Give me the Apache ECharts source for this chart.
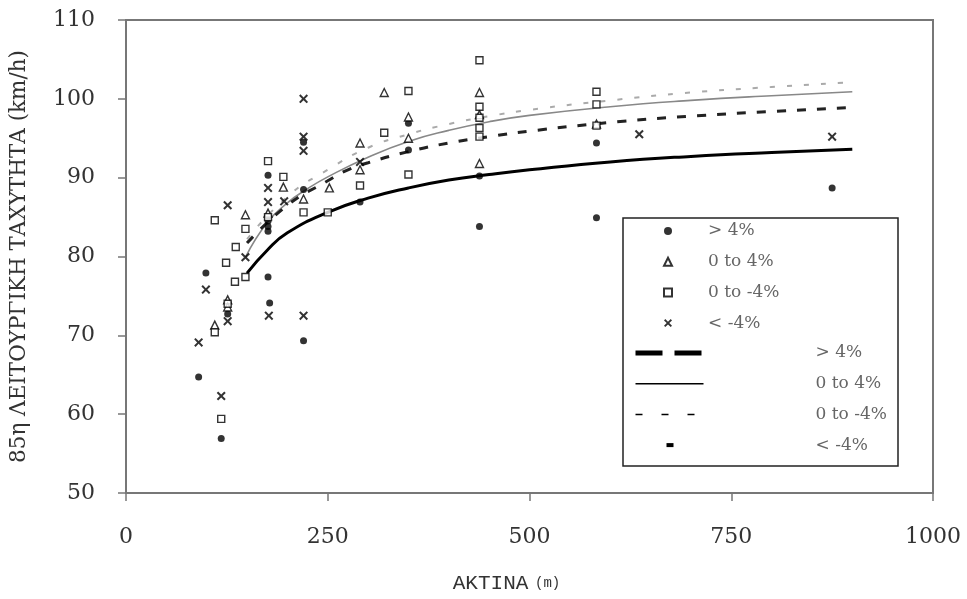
<!DOCTYPE html>
<html><head><meta charset="utf-8">
<script src="https://cdn.jsdelivr.net/npm/echarts@6/dist/echarts.min.js"></script>
<style>html,body{margin:0;padding:0;background:#fff}#c{width:967px;height:599px}</style>
</head><body><div id="c"></div>
<script>
// ---- data ----
const xTicks = [0, 250, 500, 750, 1000];
const yTicks = [50, 60, 70, 80, 90, 100, 110];
const groupNames = ['> 4%', '0 to 4%', '0 to -4%', '< -4%'];

// scatter observations [radius m, V85 km/h]
const ptsGt4 = [[90,64.7],[99,77.9],[118,56.9],[126,72.7],[176,90.3],[176,84.5],[176,83.8],[176,83.2],[176,77.4],[178,74.1],
  [220,94.5],[220,88.5],[220,69.3],[290,86.9],[350,96.9],[350,93.5],[438,90.2],[438,83.8],[583,94.4],[583,84.9],[875,88.7]];
const ptsPos = [[110,71.3],[126,74.5],[126,73.6],[148,85.3],[176,85.5],[195,88.8],[220,87.3],[252,88.7],[290,94.4],[290,91.0],
  [320,100.8],[350,97.7],[350,95.0],[438,100.8],[438,98.0],[438,91.8],[583,96.8]];
const ptsNeg = [[110,84.6],[118,59.4],[110,70.4],[126,74.0],[124,79.2],[135,76.8],[136,81.2],[148,83.5],[148,77.4],[176,92.1],
  [176,85.0],[195,90.1],[220,85.6],[250,85.6],[290,89.0],[320,95.7],[350,101.0],[350,90.4],[438,104.9],[438,99.0],[438,97.6],
  [438,96.3],[438,95.2],[583,100.9],[583,99.3],[583,96.6]];
const ptsLt4 = [[90,69.1],[99,75.8],[118,62.3],[126,86.5],[126,71.8],[148,79.9],[177,72.5],[176,88.7],[176,86.9],[196,87.0],
  [220,100.0],[220,95.2],[220,93.4],[220,72.5],[290,92.0],[636,95.5],[875,95.2]];

// fitted curves
const fitGt4X = [150,175,200,250,300,350,400,450,500,600,700,800,900];
const fitGt4Y = [77.9,80.8,83.0,85.6,87.4,88.7,89.7,90.4,91.0,92.0,92.7,93.2,93.6];
const fitPosX = [148,175,200,225,250,300,350,400,450,500,600,700,800,900];
const fitPosY = [79.9,84.3,86.8,88.6,90.1,92.6,94.6,96.0,97.1,97.9,99.0,99.8,100.4,100.9];
const fitNegX = [150,200,250,275,300,350,400,450,500,600,700,800,900];
const fitNegY = [81.7,86.5,89.6,91.0,91.9,93.3,94.4,95.2,95.9,97.0,97.8,98.4,98.9];
const fitLt4X = [150,200,250,300,350,400,450,500,600,700,800,900];
const fitLt4Y = [82.2,87.6,91.0,93.8,95.5,96.8,97.8,98.6,99.8,100.8,101.5,102.1];

const pair = (xs, ys) => xs.map((x, i) => [x, ys[i]]);
const crossPath = 'path://M0,1.6L1.6,0L5,3.4L8.4,0L10,1.6L6.6,5L10,8.4L8.4,10L5,6.6L1.6,10L0,8.4L3.4,5Z';
const serif = 'DejaVu Serif';
const lineNames = groupNames.map(n => n + ' ');
const hideSym = {color: 'transparent', borderColor: 'transparent', opacity: 0};

const chart = echarts.init(document.getElementById('c'), null, {renderer: 'canvas'});
chart.setOption({
  animation: false,
  backgroundColor: '#fff',
  grid: {left: 123, right: 34, top: 20, bottom: 106, show: true, borderColor: '#777', borderWidth: 2, backgroundColor: 'transparent'},
  xAxis: {
    type: 'value', min: 0, max: 1000, interval: 250,
    axisLine: {show: true, lineStyle: {color: '#777', width: 2}},
    axisTick: {show: true, inside: false, length: 8, lineStyle: {color: '#777', width: 1.5}, customValues: xTicks},
    axisLabel: {margin: 33, fontFamily: serif, fontSize: 22, color: '#333', customValues: xTicks, formatter: v => String(v)},
    splitLine: {show: false},
    name: '{a|AKTINA}  {b|(m)}', nameLocation: 'middle', nameGap: 80,
    nameTextStyle: {padding: [0, 46, 0, 0], rich: {
      a: {fontFamily: 'Liberation Mono', fontSize: 21, color: '#333'},
      b: {fontFamily: 'Liberation Mono', fontSize: 14, color: '#333'}}}
  },
  yAxis: {
    type: 'value', min: 50, max: 110, interval: 10,
    axisLine: {show: true, lineStyle: {color: '#777', width: 2}},
    axisTick: {show: true, inside: false, length: 8, lineStyle: {color: '#777', width: 1.5}, customValues: yTicks},
    axisLabel: {margin: 31, fontFamily: serif, fontSize: 22, color: '#333', customValues: yTicks, formatter: v => String(v)},
    splitLine: {show: false},
    name: '85η ΛΕΙΤΟΥΡΓΙΚΗ ΤΑΧΥΤΗΤΑ (km/h)', nameLocation: 'middle', nameGap: 96, nameRotate: 90,
    nameTextStyle: {fontFamily: serif, fontSize: 21.5, color: '#333'}
  },
  graphic: [{type: 'rect', z: 3, shape: {x: 623, y: 218, width: 275, height: 248},
    style: {fill: '#fff', stroke: '#222', lineWidth: 1.5}}],
  legend: [
    {data: groupNames, orient: 'vertical', left: 663, top: 221, padding: 0, itemWidth: 8, itemHeight: 8, itemGap: 10.7,
     textStyle: {fontFamily: serif, fontSize: 17, color: '#666', lineHeight: 20, padding: [0, 0, 0, 31]}},
    {data: [
      {name: lineNames[0], lineStyle: {type: [27, 12], width: 5, color: '#000'}, itemStyle: hideSym},
      {name: lineNames[1], lineStyle: {type: 'solid', width: 1.5, color: '#000'}, itemStyle: hideSym},
      {name: lineNames[2], lineStyle: {type: [7, 19], width: 1.5, color: '#000'}, itemStyle: hideSym},
      {name: lineNames[3], lineStyle: {type: [7, 300], dashOffset: -31, width: 4, color: '#000'}, itemStyle: hideSym}],
     orient: 'vertical', left: 633, top: 343, padding: 0, itemWidth: 68, itemHeight: 8, itemGap: 10.7,
     itemStyle: hideSym,
     textStyle: {fontFamily: serif, fontSize: 17, color: '#666', lineHeight: 20, padding: [0, 0, 0, 107]}}
  ],
  series: [
    {name: lineNames[0], type: 'line', data: pair(fitGt4X, fitGt4Y), smooth: true, symbol: 'none', z: 1,
     lineStyle: {color: '#000', width: 3}, itemStyle: {color: '#000'}},
    {name: lineNames[1], type: 'line', data: pair(fitPosX, fitPosY), smooth: true, symbol: 'none', z: 1,
     lineStyle: {color: '#888', width: 1.6}, itemStyle: {color: '#000'}},
    {name: lineNames[2], type: 'line', data: pair(fitNegX, fitNegY), smooth: true, symbol: 'none', z: 1,
     lineStyle: {color: '#222', width: 3, type: [9, 11]}, itemStyle: {color: '#000'}},
    {name: lineNames[3], type: 'line', data: pair(fitLt4X, fitLt4Y), smooth: true, symbol: 'none', z: 1,
     lineStyle: {color: '#aaa', width: 2, type: [5, 12]}, itemStyle: {color: '#000'}},
    {name: groupNames[0], type: 'scatter', data: ptsGt4, symbol: 'circle', symbolSize: 7,
     itemStyle: {color: '#000'}},
    {name: groupNames[1], type: 'scatter', data: ptsPos, symbol: 'triangle', symbolSize: 8,
     itemStyle: {color: '#fff', borderColor: '#000', borderWidth: 1.4}},
    {name: groupNames[2], type: 'scatter', data: ptsNeg, symbol: 'rect', symbolSize: 7,
     itemStyle: {color: '#fff', borderColor: '#000', borderWidth: 1.4}},
    {name: groupNames[3], type: 'scatter', data: ptsLt4, symbol: crossPath, symbolSize: 9,
     itemStyle: {color: '#000'}}
  ]
});
</script></body></html>
